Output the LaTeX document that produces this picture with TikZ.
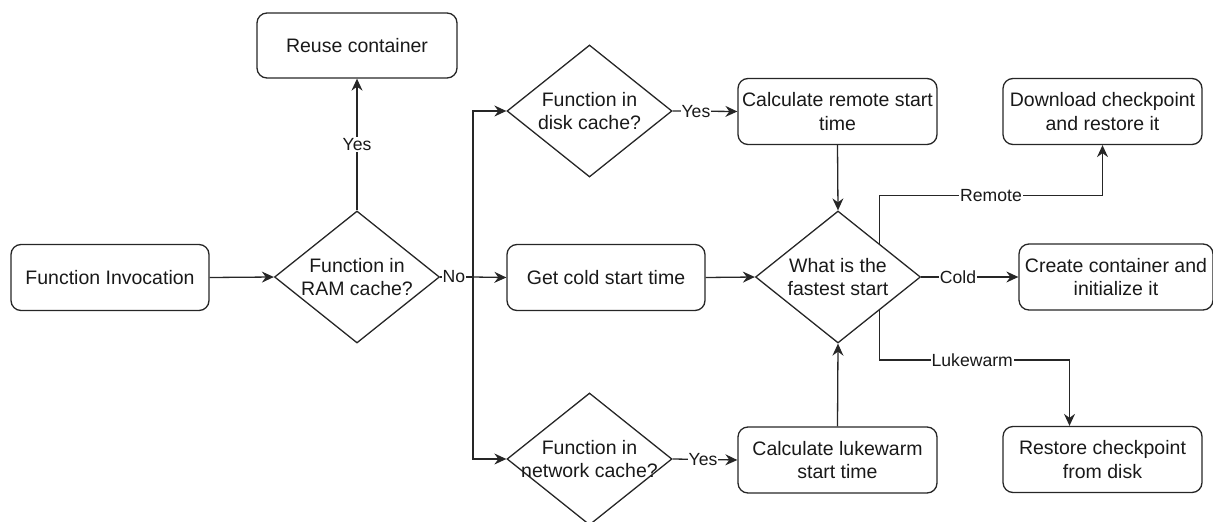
\documentclass[tikz,border=0pt]{standalone}
\usepackage{fontspec}
\setmainfont{Liberation Sans}
\usetikzlibrary{shapes.geometric,arrows.meta,calc}

\tikzset{
  every picture/.style={x=1pt,y=-1pt},
  base/.style={line width=1.3pt,draw=black!85},
  stepbox/.style={base,rounded corners=10pt,minimum width=198pt,minimum height=66pt,
    inner sep=2pt,align=center,text=black!90,font=\fontsize{19.5}{23.4}\selectfont},
  decision/.style={base,shape=diamond,minimum width=165pt,minimum height=132pt,inner sep=0pt},
  dtext/.style={align=center,inner sep=0pt,text=black!90,font=\fontsize{19.5}{23.4}\selectfont},
  arr/.style={base,-{Stealth[length=12pt,width=11pt,inset=4pt]}},
  plain/.style={base},
  lbl/.style={fill=white,inner sep=1pt,text=black!90,font=\fontsize{17.6}{20}\selectfont}
}

\begin{document}
\begin{tikzpicture}
\useasboundingbox (0,0) rectangle (1213,522);

% process boxes
\node[stepbox] (inv)    at (110,277.5)   {Function Invocation};
\node[stepbox,minimum width=200pt,minimum height=65pt] (reuse) at (357,45.5) {Reuse container};
\node[stepbox] (cold)   at (606,277.5)   {Get cold start time};
\node[stepbox,minimum width=199pt] (rem)  at (837.5,111.5) {Calculate remote start\\time};
\node[stepbox,minimum width=199pt] (luke) at (837.5,460)   {Calculate lukewarm\\start time};
\node[stepbox,minimum width=199pt] (dl)   at (1102.5,111.5) {Download checkpoint\\and restore it};
\node[stepbox,minimum width=194pt] (create) at (1116,277)  {Create container and\\initialize it};
\node[stepbox,minimum width=199pt] (rest) at (1102.5,459.5) {Restore checkpoint\\from disk};

% decisions
\node[decision] (ram)  at (357,277)   {};
\node[dtext] at (ram)  {Function in\\RAM cache?};
\node[decision] (disk) at (589.5,111) {};
\node[dtext] at (disk) {Function in\\disk cache?};
\node[decision] (net)  at (589.5,459) {};
\node[dtext] at (net)  {Function in\\network cache?};
\node[decision] (fast) at (838,277)   {};
\node[dtext] at (fast) {What is the\\fastest start};

% connectors
\coordinate (split) at (473,277);
\draw[arr] (inv.east) -- (ram.west);
\draw[arr] (ram.north) -- node[lbl] {Yes} (reuse.south);
\draw[plain] (ram.east) -- node[lbl,pos=0.42] {No} (split);
\draw[arr] (split) |- (disk.west);
\draw[arr] (split) |- (net.west);
\draw[arr] (split) -- (cold.west);
\draw[arr] (disk.east) -- node[lbl,pos=0.36] {Yes} (rem.west);
\draw[arr] (net.east) -- node[lbl,pos=0.47] {Yes} (luke.west);
\draw[arr] (rem.south) -- (fast.north);
\draw[arr] (luke.north) -- (fast.south);
\draw[arr] (cold.east) -- (fast.west);
\draw[arr] (fast.east) -- node[lbl,pos=0.38] {Cold} (create.west);
\draw[arr] (fast.north east) |- ($(dl.south)+(0,50)$) node[lbl,pos=0.75] {Remote} -- (dl.south);
\draw[arr] (fast.south east) |- ($(rest.north)+(-33,-66)$) node[lbl,pos=0.744] {Lukewarm} -- ($(rest.north)+(-33,0)$);
\end{tikzpicture}
\end{document}
